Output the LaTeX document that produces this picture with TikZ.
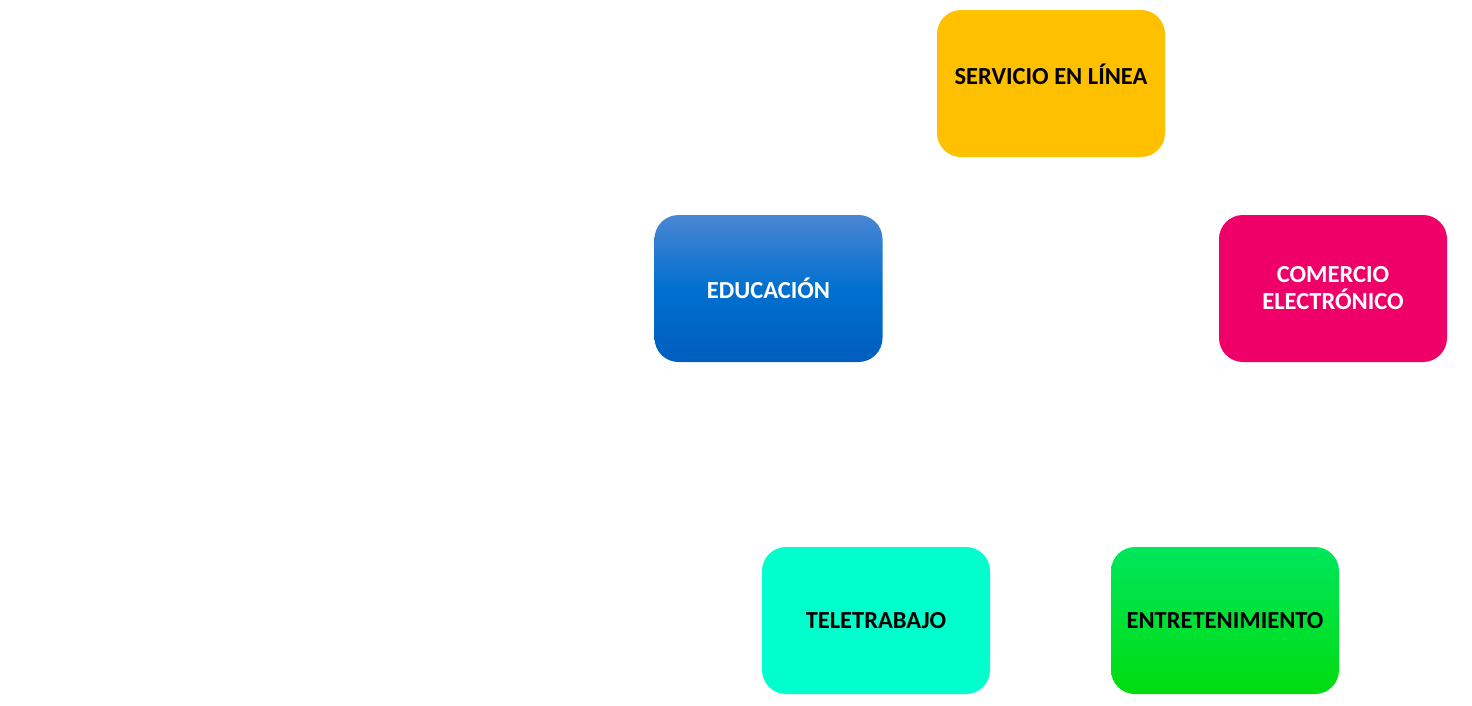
\documentclass[tikz,border=0pt]{standalone}
\usepackage{fontspec}
\setmainfont{Carlito}
\definecolor{cyellow}{HTML}{FFC000}
\definecolor{cpink}{HTML}{EE0068}
\definecolor{cteal}{HTML}{00FFCC}
\definecolor{cblueT}{HTML}{4A86D2}
\definecolor{cblueM}{HTML}{0070D0}
\definecolor{cblueB}{HTML}{005EBE}
\definecolor{cgreenT}{HTML}{00E65C}
\definecolor{cgreenB}{HTML}{00DC10}
\tikzset{
  cardfont/.style={font=\fontsize{24.5}{27}\selectfont\bfseries},
  card/.style={rounded corners=24pt, minimum width=228pt, minimum height=147pt,
    inner sep=0pt, align=center, cardfont, draw=none},
}
\begin{document}
\begin{tikzpicture}[x=1pt,y=-1pt]
\useasboundingbox (0,0) rectangle (1472,705);
\node[card, fill=cyellow] (serv) at (1051,83.5) {};
\node[cardfont, text=black] (servt) at (1051,74) {SERVICIO EN LÍNEA};
\node[card, top color=cblueT, bottom color=cblueB, middle color=cblueM, text=white] (edu) at (768.5,288.5) {EDUCACIÓN};
\node[card, fill=cpink, text=white] (com) at (1333,288.5) {COMERCIO\\ELECTRÓNICO};
\node[card, fill=cteal, text=black] (tele) at (876,620.5) {TELETRABAJO};
\node[card, top color=cgreenT, bottom color=cgreenB, text=black] (ent) at (1225,620.5) {ENTRETENIMIENTO};
\end{tikzpicture}
\end{document}
